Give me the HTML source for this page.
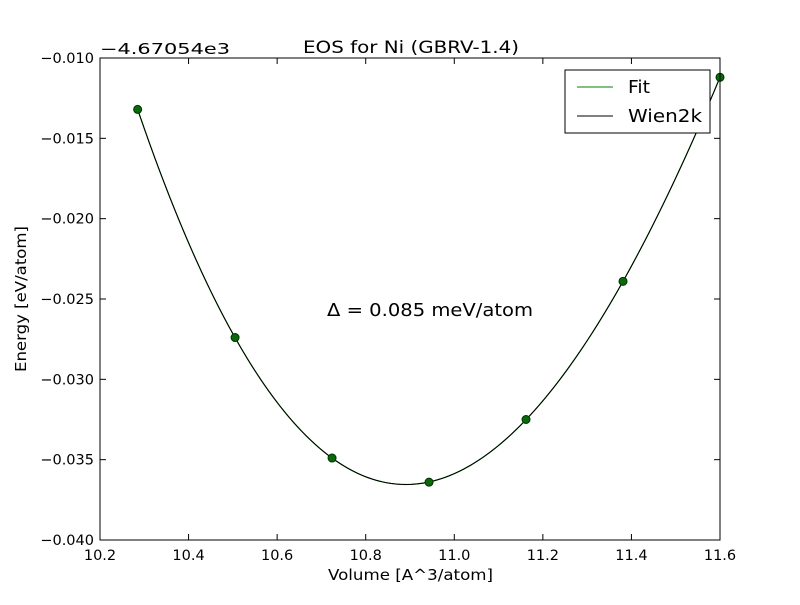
<!DOCTYPE html>
<html><head><meta charset="utf-8"><style>
body{margin:0;background:#fff;}
svg text{font-family:"DejaVu Sans","Liberation Sans",sans-serif;}
</style></head><body>
<svg id="chart" width="800" height="600" viewBox="0 0 800 600">
<rect width="800" height="600" fill="#fff"/>
<g id="ticks"></g>
<g id="series"></g>
<rect x="100" y="58" width="620" height="482" fill="none" stroke="#000" stroke-width="1"/>
<text x="303" y="53" font-size="17" textLength="216" lengthAdjust="spacingAndGlyphs">EOS for Ni (GBRV-1.4)</text>
<text x="100" y="54" font-size="15" textLength="130" lengthAdjust="spacingAndGlyphs">−4.67054e3</text>
<text x="328" y="580" font-size="15" textLength="165" lengthAdjust="spacingAndGlyphs">Volume [A^3/atom]</text>
<text transform="translate(26,299) rotate(-90)" text-anchor="middle" font-size="15" textLength="146" lengthAdjust="spacingAndGlyphs">Energy [eV/atom]</text>
<text x="327" y="316" font-size="18" textLength="206" lengthAdjust="spacingAndGlyphs">Δ = 0.085 meV/atom</text>
<g>
<rect x="565" y="70" width="145" height="63" fill="#fff" stroke="#000"/>
<line x1="577" y1="87" x2="613" y2="87" stroke="#008000"/>
<text x="628" y="93" font-size="18" textLength="22" lengthAdjust="spacingAndGlyphs">Fit</text>
<line x1="577" y1="116" x2="613" y2="116" stroke="#000"/>
<text x="628" y="122" font-size="18" textLength="74" lengthAdjust="spacingAndGlyphs">Wien2k</text>
</g>
</svg>
<script>
const volumes=[10.285,10.505,10.724,10.943,11.162,11.381,11.600];
const energies=[-0.0132,-0.0274,-0.0349,-0.0364,-0.0325,-0.0239,-0.0112];
const xTicks=[10.2,10.4,10.6,10.8,11.0,11.2,11.4,11.6];
const yTicks=[-0.040,-0.035,-0.030,-0.025,-0.020,-0.015,-0.010];
const X0=100,X1=720,Y0=58,Y1=540,XMIN=10.2,XMAX=11.6,YMIN=-0.040,YMAX=-0.010;
const sx=v=>X0+(v-XMIN)/(XMAX-XMIN)*(X1-X0);
const sy=e=>Y1-(e-YMIN)/(YMAX-YMIN)*(Y1-Y0);
const NS="http://www.w3.org/2000/svg";
function mk(t,a,p){const e=document.createElementNS(NS,t);for(const k in a)e.setAttribute(k,a[k]);p.appendChild(e);return e;}
const tg=document.getElementById('ticks');
xTicks.forEach(v=>{const x=sx(v);
const t1=mk('line',{x1:x,y1:Y1,x2:x,y2:Y1-6,stroke:'#000'},tg);


mk('line',{x1:x,y1:Y0,x2:x,y2:Y0+6,stroke:'#000'},tg);
const l=mk('text',{x:x,y:Y1+20,'text-anchor':'middle','font-size':14.5},tg);l.textContent=v.toFixed(1);

});
yTicks.forEach(v=>{const y=sy(v);
const t1=mk('line',{x1:X0,y1:y,x2:X0+6,y2:y,stroke:'#000'},tg);


mk('line',{x1:X1,y1:y,x2:X1-6,y2:y,stroke:'#000'},tg);
const l=mk('text',{x:X0-6,y:y+5,'text-anchor':'end','font-size':14.5},tg);l.textContent=v.toFixed(3).replace('-','−');

});
function fit(xs,ys,deg){const n=deg+1,A=[],b=[];const c=10.9;
for(let i=0;i<n;i++){A.push(new Array(n).fill(0));b.push(0);}
xs.forEach((x,k)=>{const d=x-c;for(let i=0;i<n;i++){b[i]+=ys[k]*Math.pow(d,i);for(let j=0;j<n;j++)A[i][j]+=Math.pow(d,i+j);}});
for(let i=0;i<n;i++){for(let r=i+1;r<n;r++){const f=A[r][i]/A[i][i];for(let j=i;j<n;j++)A[r][j]-=f*A[i][j];b[r]-=f*b[i];}}
const co=new Array(n);for(let i=n-1;i>=0;i--){let s=b[i];for(let j=i+1;j<n;j++)s-=A[i][j]*co[j];co[i]=s/A[i][i];}
return x=>co.reduce((s,cc,i)=>s+cc*Math.pow(x-c,i),0);}
const f=fit(volumes,energies,3);
const sg=document.getElementById('series');
let d='';const a=volumes[0],bb=volumes[volumes.length-1];
for(let i=0;i<=200;i++){const v=a+(bb-a)*i/200;d+=(i?'L':'M')+sx(v).toFixed(2)+','+sy(f(v)).toFixed(2);}
const fl=mk('path',{d:d,fill:'none',stroke:'#008000','stroke-width':1.2},sg);


const wl=mk('path',{d:d,fill:'none',stroke:'#000','stroke-width':1},sg);


volumes.forEach((v,i)=>{const c=mk('circle',{cx:sx(v),cy:sy(energies[i]),r:4,fill:'#0a6a0a',stroke:'#003000','stroke-width':1},sg);

});
</script>
</body></html>
